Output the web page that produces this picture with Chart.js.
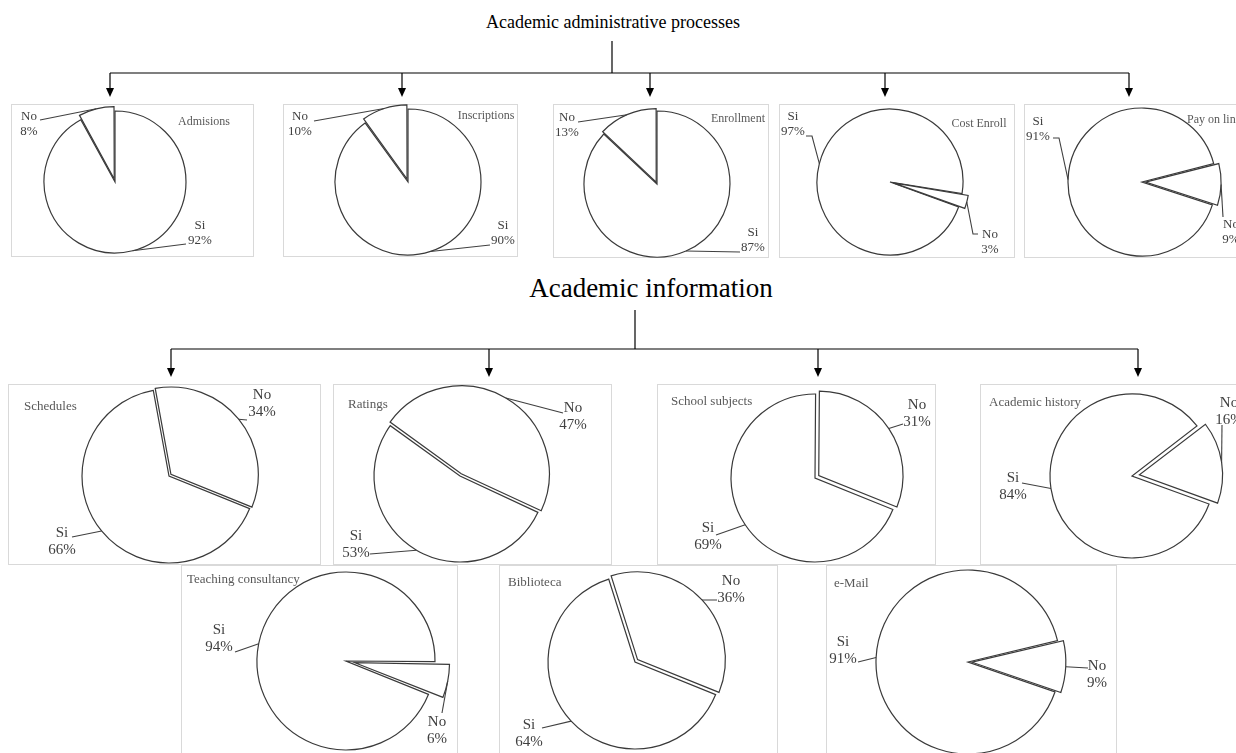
<!DOCTYPE html>
<html>
<head>
<meta charset="utf-8">
<script src="https://cdn.jsdelivr.net/npm/chart.js@4"></script>
<style>
  body { margin: 0; width: 1236px; height: 753px; overflow: hidden; position: relative; background: #fff; }
  .heading { position: absolute; font-family: "Liberation Serif", "Times New Roman", serif; color: #000; white-space: nowrap; line-height: 1; transform: translateX(-50%); }
  .box { position: absolute; border: 1px solid #d9d9d9; box-sizing: border-box; }
  canvas { position: absolute; }
</style>
</head>
<body>
<svg id="links" width="1236" height="753" style="position:absolute;left:0;top:0"></svg>
<div class="heading" style="left:613px;top:13px;font-size:18px">Academic administrative processes</div>
<div class="heading" style="left:651px;top:275px;font-size:27px">Academic information</div>

<script>
// ---- data ----
const chartNames = ['Admisions', 'Inscriptions', 'Enrollment', 'Cost Enroll', 'Pay on line',
  'Schedules', 'Ratings', 'School subjects', 'Academic history',
  'Teaching consultancy', 'Biblioteca', 'e-Mail'];
const sliceLabels = ['Si', 'No'];
const siValues = [92, 90, 87, 97, 91, 66, 53, 69, 84, 94, 64, 91];
const noValues = [8, 10, 13, 3, 9, 34, 47, 31, 16, 6, 36, 9];

// ---- layout (page pixels) ----
// box: [x, y, w, h], c: pie centre, r: radius, rot: start angle of "Si", off: explode of "No"
// title: [x, y, align], si/no: text centre [x, y] and leader path points
const layout = [
  { box: [11, 104, 243, 153], c: [115, 182], r: 71, rot: 0, off: 12, small: true,
    title: [204, 122, 'center'], si: { t: [200, 226], path: [[186, 244]] }, no: { t: [29, 117], path: [[40, 120]] } },
  { box: [283, 104, 235, 153], c: [408, 182], r: 73, rot: 0, off: 12, small: true,
    title: [486, 116, 'center'], si: { t: [503, 226], path: [[490, 245]] }, no: { t: [300, 117], path: [[314, 121]] } },
  { box: [553, 104, 216, 154], c: [657, 184], r: 73, rot: 0, off: 8, small: true,
    title: [738, 119, 'center'], si: { t: [753, 233], path: [[740, 252]] }, no: { t: [567, 118], path: [[578, 122]] } },
  { box: [779, 104, 236, 154], c: [890, 182], r: 73, rot: 110, off: 14, small: true,
    title: [979, 124, 'center'], si: { t: [793, 117], path: [[812, 136], [806, 136]] }, no: { t: [990, 235], path: [[973, 234], [978, 234]] } },
  { box: [1024, 104, 215, 154], c: [1142, 182], r: 74, rot: 108, off: 14, small: true,
    title: [1187, 120, 'left'], si: { t: [1038, 122], path: [[1059, 138], [1053, 138]] }, no: { t: [1231, 225], path: [[1223, 217]] } },
  { box: [8, 384, 313, 181], c: [169, 476], r: 87, rot: 112, off: 10,
    title: [24, 407, 'left'], si: { t: [62, 533], path: [[72, 537]] }, no: { t: [262, 395], path: [[247, 420]] } },
  { box: [333, 384, 279, 181], c: [460, 476], r: 86, rot: 115, off: 10,
    title: [348, 405, 'left'], si: { t: [356, 536], path: [[370, 554]] }, no: { t: [573, 408], path: [[563, 413]] } },
  { box: [657, 384, 279, 181], c: [815, 478], r: 84, rot: 112, off: 18,
    title: [671, 402, 'left'], si: { t: [708, 528], path: [[716, 535]] }, no: { t: [917, 405], path: [[903, 424]] } },
  { box: [980, 384, 259, 181], c: [1132, 476], r: 82, rot: 110, off: 30,
    title: [989, 403, 'left'], si: { t: [1013, 478], path: [[1022, 483]] }, no: { t: [1229, 403], path: [[1222, 425]] } },
  { box: [181, 565, 277, 190], c: [346, 661], r: 89, rot: 112, off: 36,
    title: [187, 580, 'left'], si: { t: [219, 630], path: [[235, 652]] }, no: { t: [437, 722], path: [[442, 713]] } },
  { box: [499, 565, 279, 190], c: [635, 662], r: 87, rot: 112, off: 14,
    title: [508, 583, 'left'], si: { t: [529, 725], path: [[542, 728]] }, no: { t: [731, 581], path: [[717, 600]] } },
  { box: [826, 565, 291, 190], c: [968, 662], r: 92, rot: 109, off: 16,
    title: [834, 584, 'left'], si: { t: [843, 642], path: [[858, 662]] }, no: { t: [1097, 666], path: [[1088, 668]] } }
];

// connector lines: [stem x, stem top, bar y, bar from, bar to, arrow tip y, arrow xs]
const connectors = [
  { stem: [612, 41], barY: 73, tipY: 97, arrows: [110, 402, 650, 885, 1129] },
  { stem: [635, 310], barY: 349, tipY: 377, arrows: [171, 489, 818, 1138] }
];

const FONT = '"Liberation Serif", "Times New Roman", serif';

// draw the tree lines
const svg = document.getElementById('links');
let svgHtml = '';
connectors.forEach(cn => {
  const xs = cn.arrows;
  svgHtml += `<line x1="${cn.stem[0]}" y1="${cn.stem[1]}" x2="${cn.stem[0]}" y2="${cn.barY}" stroke="#000" stroke-width="1.2"/>`;
  svgHtml += `<line x1="${xs[0]}" y1="${cn.barY}" x2="${xs[xs.length - 1]}" y2="${cn.barY}" stroke="#000" stroke-width="1.2"/>`;
  xs.forEach(x => {
    svgHtml += `<line x1="${x}" y1="${cn.barY}" x2="${x}" y2="${cn.tipY - 8}" stroke="#000" stroke-width="1.2"/>`;
    svgHtml += `<polygon points="${x - 4},${cn.tipY - 9} ${x + 4},${cn.tipY - 9} ${x},${cn.tipY}" fill="#000"/>`;
  });
});
svg.innerHTML = svgHtml;

// labels, leader lines and chart titles
const leaderPlugin = {
  id: 'leaders',
  afterDatasetsDraw(chart, args, opts) {
    const ctx = chart.ctx;
    const L = opts.layout;
    const ox = L.box[0], oy = L.box[1];
    const meta = chart.getDatasetMeta(0);
    const values = chart.data.datasets[0].data;
    const fs = L.small ? 13 : 15;
    ctx.save();
    ctx.textBaseline = 'middle';

    ctx.font = `${L.small ? 12 : 13}px ${FONT}`;
    ctx.fillStyle = '#595959';
    ctx.textAlign = L.title[2];
    ctx.fillText(opts.name, L.title[0] - ox, L.title[1] - oy);

    meta.data.forEach((arc, i) => {
      const spec = i === 0 ? L.si : L.no;
      const p = arc.getProps(['x', 'y', 'startAngle', 'endAngle', 'outerRadius'], true);
      const off = arc.options.offset || 0;
      const circ = p.endAngle - p.startAngle;
      const push = off / 4 * (2 - Math.sin(Math.min(Math.PI, circ)));
      const mid = (p.startAngle + p.endAngle) / 2;
      const sx = p.x + Math.cos(mid) * (p.outerRadius + (off ? push : 0));
      const sy = p.y + Math.sin(mid) * (p.outerRadius + (off ? push : 0));

      ctx.strokeStyle = '#404040';
      ctx.lineWidth = 1.1;
      ctx.beginPath();
      ctx.moveTo(sx, sy);
      spec.path.forEach(pt => ctx.lineTo(pt[0] - ox, pt[1] - oy));
      ctx.stroke();

      ctx.font = `${fs}px ${FONT}`;
      ctx.fillStyle = '#404040';
      ctx.textAlign = 'center';
      ctx.fillText(sliceLabels[i], spec.t[0] - ox, spec.t[1] - oy);
      ctx.fillText(values[i] + '%', spec.t[0] - ox, spec.t[1] - oy + (L.small ? 15 : 17));
    });
    ctx.restore();
  }
};

chartNames.forEach((name, k) => {
  const L = layout[k];
  const [bx, by, bw, bh] = L.box;

  const frame = document.createElement('div');
  frame.className = 'box';
  frame.style.left = bx + 'px';
  frame.style.top = by + 'px';
  frame.style.width = bw + 'px';
  frame.style.height = bh + 'px';
  document.body.appendChild(frame);

  const canvas = document.createElement('canvas');
  canvas.width = bw;
  canvas.height = bh;
  canvas.style.left = bx + 'px';
  canvas.style.top = by + 'px';
  document.body.appendChild(canvas);

  // padding so that the chart area is centred on the pie centre
  const lx = L.c[0] - bx, ly = L.c[1] - by;
  const hw = Math.min(lx, bw - lx), hh = Math.min(ly, bh - ly);

  new Chart(canvas, {
    type: 'pie',
    data: {
      labels: sliceLabels,
      datasets: [{
        data: [siValues[k], noValues[k]],
        backgroundColor: '#ffffff',
        borderColor: '#3a3a3a',
        borderWidth: 1.2,
        borderJoinStyle: 'miter',
        offset: [0, L.off],
        clip: false
      }]
    },
    options: {
      responsive: false,
      animation: false,
      events: [],
      rotation: L.rot,
      radius: L.r,
      layout: { padding: { left: lx - hw, right: bw - lx - hw, top: ly - hh, bottom: bh - ly - hh } },
      plugins: {
        legend: { display: false },
        tooltip: { enabled: false },
        leaders: { name: name, layout: L }
      }
    },
    plugins: [leaderPlugin]
  });
});
</script>
</body>
</html>
